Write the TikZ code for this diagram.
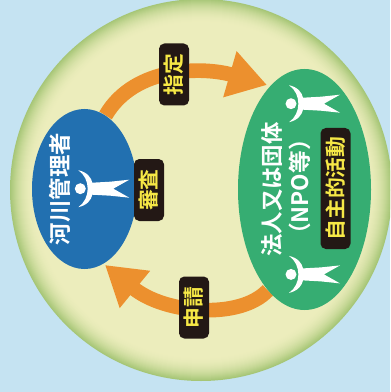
\documentclass[tikz,border=0pt]{standalone}
\usepackage{fontspec}
\usepackage{xcolor}
\usetikzlibrary{shapes.geometric,arrows.meta}
\setmainfont{Noto Sans CJK JP}[BoldFont={Noto Sans CJK JP Bold}]
\definecolor{skyblue}{RGB}{197,227,242}
\definecolor{creamdisc}{RGB}{236,237,188}
\definecolor{rimgreen}{RGB}{166,198,118}
\definecolor{adminblue}{RGB}{34,112,176}
\definecolor{npogreen}{RGB}{54,173,114}
\definecolor{floworange}{RGB}{236,144,46}
\definecolor{tagblack}{RGB}{35,24,21}
\definecolor{tagyellow}{RGB}{246,232,70}
\tikzset{
  party/.style={ellipse,inner sep=0pt},
  flow/.style={draw=floworange,line width=11pt,-{Triangle[length=29pt,width=34pt,fill=floworange]}},
  tag/.style={fill=tagblack,rounded corners=4pt,rotate=90,inner sep=0pt,minimum height=22.5pt,text=tagyellow,font=\bfseries\fontsize{15.6pt}{16pt}\selectfont},
  whitetext/.style={rotate=90,inner sep=0pt,text=white,font=\bfseries\fontsize{16.8pt}{17pt}\selectfont},
  person/.pic={
    \fill[white] (0,0) circle [radius=5.5];
    \fill[white] (-2,-18.5) .. controls (7,-16.5) and (11,-11) .. (12,-6) -- (30,-7) -- (49,-9)
      -- (33,0) -- (49,9) -- (30,7) -- (12,6) .. controls (11,11) and (7,16.5) .. (-2,18.5)
      .. controls (10.5,10) and (10.5,-10) .. (-2,-18.5) -- cycle;
  }
}
\begin{document}
\begin{tikzpicture}[x=0.75pt,y=-0.75pt]
% Background and disc
\useasboundingbox (0,0) rectangle (390,392);
\clip (0,0) rectangle (390,392);
\fill[skyblue] (0,0) rectangle (390,392);
\node[circle,inner sep=0pt,minimum size=286.5pt,fill=rimgreen] (disc) at (201,190) {};
\foreach \r in {190,189,...,167} {
  \pgfmathsetmacro{\mixval}{100*(1-((\r-167)/24)^2)}
  \fill[creamdisc!\mixval!rimgreen] (disc) circle [radius=\r];
}

\node[party,minimum width=78.75pt,minimum height=120pt] (admin) at (84.5,189) {};
\node[party,minimum width=99.75pt,minimum height=180.75pt] (npo) at (304.5,189.5) {};
\coordinate (tipnpo) at (267,85);
\coordinate (tipadmin) at (105,265);

\draw[flow] (admin.74) .. controls (135,65) and (205,67) .. (tipnpo);
\draw[flow] (npo.250) .. controls (240,320) and (165,314) .. (tipadmin);

\node[party,fill=adminblue,minimum width=78.75pt,minimum height=120pt] at (admin) {};
\node[party,fill=npogreen,minimum width=99.75pt,minimum height=180.75pt] at (npo) {};

\node[whitetext] (admintext) at (60,189) {河川管理者};
\node[whitetext] (npotext) at (272,189.5) {法人又は団体};
\node[whitetext,font=\bfseries\fontsize{17pt}{18pt}\selectfont] (npotextb) at (300,187) {（NPO等）};

\pic at (80.3,188.7) {person};
\pic at (291,103.7) {person};
\pic at (291,274.4) {person};

\node[tag,minimum width=46.5pt] (shitei) at (174,74.5) {指定};
\node[tag,minimum width=46.5pt] (shinsa) at (149,190) {審査};
\node[tag,minimum width=46.5pt] (shinsei) at (194,307.5) {申請};
\node[tag,minimum width=90.75pt] (jishu) at (335.5,188.5) {自主的活動};
\end{tikzpicture}
\end{document}
